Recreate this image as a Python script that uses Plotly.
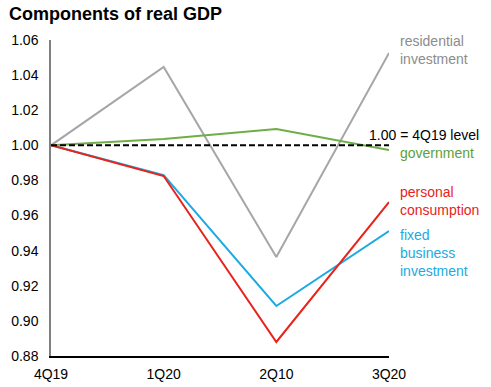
import plotly.graph_objects as go

quarters = ["4Q19", "1Q20", "2Q10", "3Q20"]
residential = [1.000, 1.0446, 0.9364, 1.0526]
government = [1.000, 1.0036, 1.0093, 0.9973]
personal = [1.000, 0.9825, 0.8880, 0.9677]
fixed_business = [1.000, 0.9830, 0.9085, 0.9512]
baseline = [1.000, 1.000, 1.000, 1.000]
y_ticks = [0.88, 0.90, 0.92, 0.94, 0.96, 0.98, 1.00, 1.02, 1.04, 1.06]

GRAY = "#A6A6A6"
GREEN = "#70AD47"
RED = "#E8231B"
CYAN = "#1BAAE1"

fig = go.Figure()
fig.add_trace(go.Scatter(x=quarters, y=residential, mode="lines", line=dict(color=GRAY, width=2)))
fig.add_trace(go.Scatter(x=quarters, y=government, mode="lines", line=dict(color=GREEN, width=2)))
fig.add_trace(go.Scatter(x=quarters, y=fixed_business, mode="lines", line=dict(color=CYAN, width=2)))
fig.add_trace(go.Scatter(x=quarters, y=personal, mode="lines", line=dict(color=RED, width=2)))
fig.add_trace(go.Scatter(x=quarters, y=baseline, mode="lines",
                         line=dict(color="black", width=2, dash="6px,3px")))

font = "Liberation Sans, Arial, sans-serif"
PW, PH, L, T = 338, 316, 51, 40
labels = [
    ("residential<br>investment", "#8C8C8C", 398, 50.5),
    ("1.00 = 4Q19 level", "black", 367, 135),
    ("government", "#5E9E38", 398, 153),
    ("personal<br>consumption", RED, 398, 201.5),
    ("fixed<br>business<br>investment", CYAN, 398, 252.5),
]
for text, color, xpix, ypix in labels:
    fig.add_annotation(text=text, xref="paper", yref="paper", x=(xpix - L) / PW,
                       y=1 - (ypix - T) / PH, xanchor="left", yanchor="middle",
                       showarrow=False, align="left",
                       font=dict(family=font, size=14, color=color))

fig.add_annotation(text="<b>Components of real GDP</b>", xref="paper", yref="paper",
                   x=(7 - L) / PW, y=1 + (T - 14) / PH, xanchor="left", yanchor="middle",
                   showarrow=False, font=dict(family=font, size=18, color="black"))

fig.update_layout(
    width=491, height=387,
    margin=dict(l=L, r=491 - L - PW, t=T, b=387 - T - PH),
    paper_bgcolor="white", plot_bgcolor="white",
    showlegend=False,
    font=dict(family=font, size=13, color="black"),
    xaxis=dict(range=[0, 3], showgrid=False, zeroline=False, showline=True, automargin=False,
               linecolor="black", linewidth=1.5, ticks="", tickfont=dict(size=14),
               ticklabelstandoff=4),
    yaxis=dict(range=[0.88, 1.06], tickvals=y_ticks, tickformat=".2f", showgrid=False,
               automargin=False,
               zeroline=False, showline=True, linecolor="#808080", linewidth=1.5,
               ticks="", ticklabelstandoff=8, tickfont=dict(size=14)),
)

fig.write_html("out.html", config={"displayModeBar": False},
               post_script="document.body.style.margin='0';")
